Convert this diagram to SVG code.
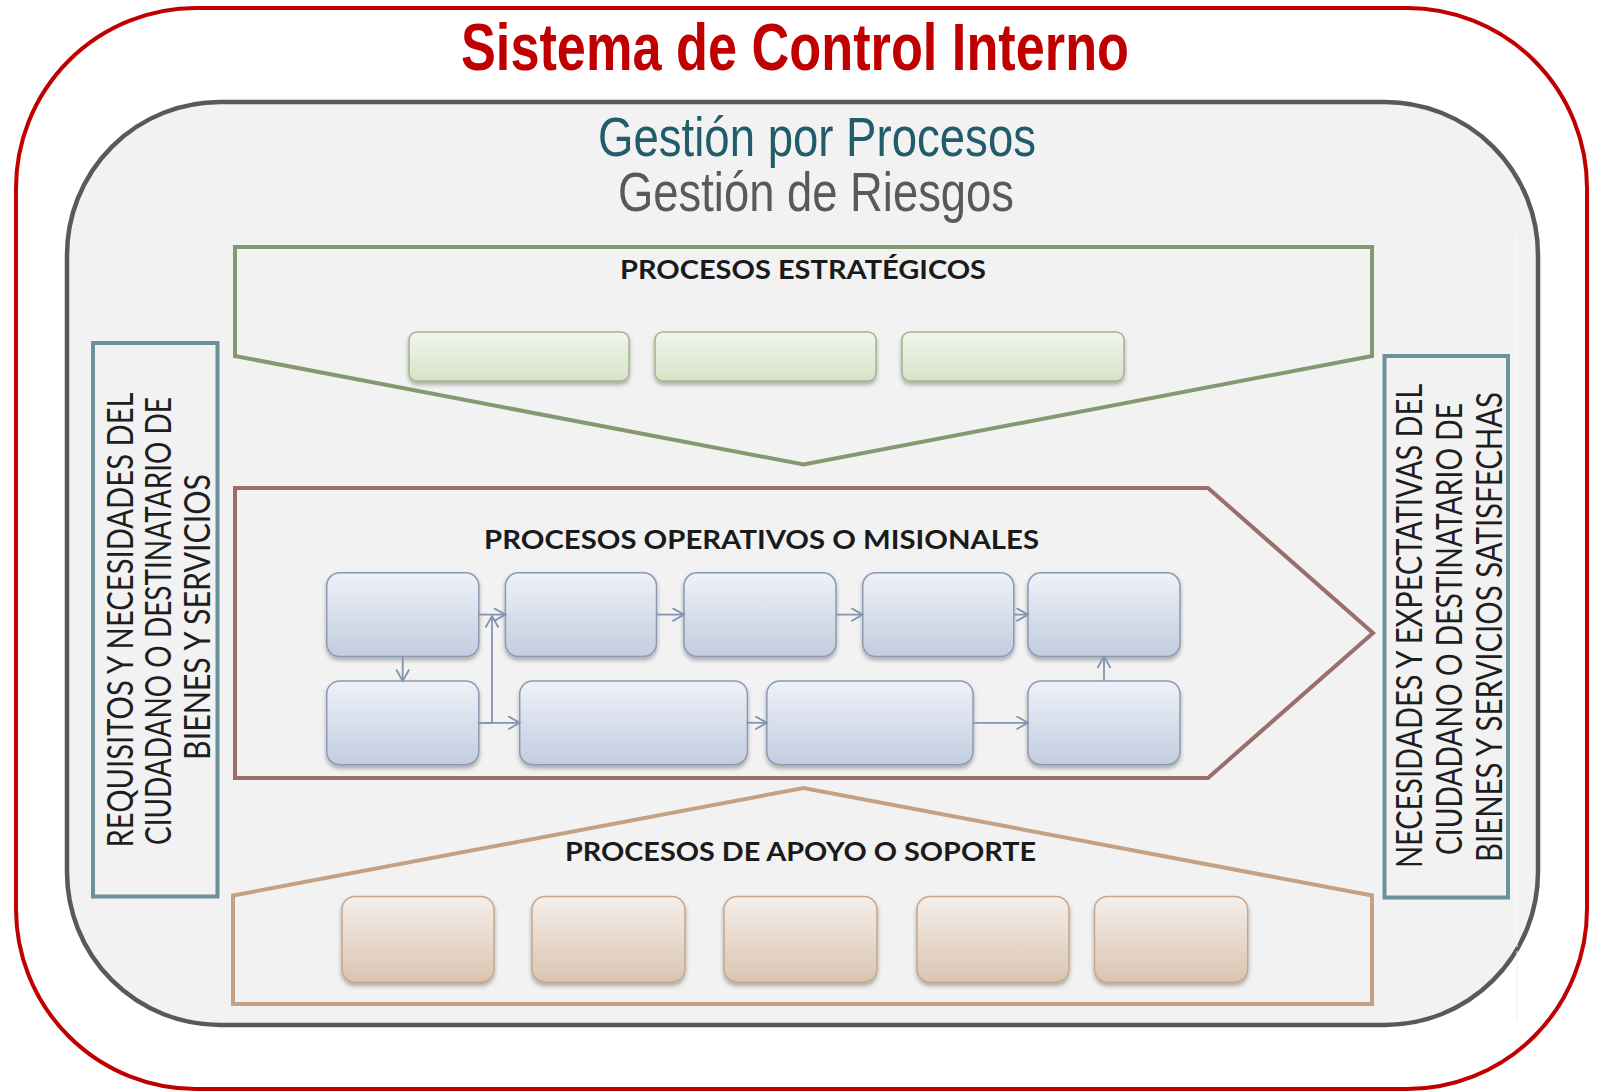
<svg xmlns="http://www.w3.org/2000/svg" width="1601" height="1092" viewBox="0 0 1601 1092">
<defs>
<style>
.narrow{font-family:"Liberation Sans Narrow","Liberation Sans",Arial,sans-serif;}
.hdr{font-family:Lato,"Liberation Sans",Arial,sans-serif;font-weight:700;font-size:26px;fill:#1A1A1A;}
.side{font-family:Lato,"Liberation Sans",Arial,sans-serif;font-size:36px;fill:#1E1E1E;text-anchor:middle;}
.band{fill:none;stroke-width:4;stroke-linejoin:miter;}
.sbox{fill:#F2F2F2;stroke:#6B919C;stroke-width:4;}
.g{fill:url(#gGreen);stroke:#A2B48A;stroke-width:1.5;filter:url(#sh);}
.b{fill:url(#gBlue);stroke:#8A9AB3;stroke-width:1.5;filter:url(#sh);}
.t{fill:url(#gTan);stroke:#C6A68C;stroke-width:1.5;filter:url(#sh);}
.c{fill:none;stroke:#8394AC;stroke-width:1.8;}
</style>
<linearGradient id="gGreen" x1="0" y1="0" x2="0" y2="1"><stop offset="0" stop-color="#F1F5EC"/><stop offset="1" stop-color="#D7E3C7"/></linearGradient>
<linearGradient id="gBlue" x1="0" y1="0" x2="0" y2="1"><stop offset="0" stop-color="#EEF1F8"/><stop offset="1" stop-color="#C2CDDF"/></linearGradient>
<linearGradient id="gTan" x1="0" y1="0" x2="0" y2="1"><stop offset="0" stop-color="#F5EEE9"/><stop offset="1" stop-color="#DAC4B1"/></linearGradient>
<filter id="sh" x="-10%" y="-10%" width="120%" height="130%">
<feDropShadow dx="0" dy="3" stdDeviation="2" flood-color="#000" flood-opacity="0.3"/>
</filter>
<marker id="arr" markerUnits="userSpaceOnUse" markerWidth="16" markerHeight="16" refX="12" refY="7" orient="auto">
<path d="M0.5,0.5 L12,7 L0.5,13.5" fill="none" stroke="#8394AC" stroke-width="1.8"/>
</marker>
</defs>

<rect width="1601" height="1092" fill="#FFFFFF"/>

<g id="sistema">
<rect x="16" y="8" width="1571" height="1081" rx="180" ry="180" fill="#FFFFFF" stroke="#C00000" stroke-width="4"/>
<text class="narrow" x="461" y="70" font-size="66" font-weight="700" fill="#C00000" textLength="668" lengthAdjust="spacingAndGlyphs">Sistema de Control Interno</text>
</g>

<g id="gestion">
<rect x="67" y="102" width="1471" height="923" rx="153" ry="153" fill="#F2F2F2" stroke="#595959" stroke-width="4.5"/>
<line x1="1517" y1="233" x2="1517" y2="947" stroke="#FAFAFA" stroke-width="1"/>
<line x1="1517" y1="951" x2="1517" y2="1020" stroke="#EBEBEB" stroke-width="1"/>
<text class="narrow" x="598" y="156" font-size="55" fill="#215C6A" textLength="438" lengthAdjust="spacingAndGlyphs">Gestión por Procesos</text>
<text class="narrow" x="618" y="211" font-size="55" fill="#595959" textLength="396" lengthAdjust="spacingAndGlyphs">Gestión de Riesgos</text>
</g>

<g id="entrada">
<rect class="sbox" x="93" y="343" width="124.5" height="553.5"/>
<text class="side" transform="translate(133,620) rotate(-90)" textLength="455" lengthAdjust="spacingAndGlyphs">REQUISITOS Y NECESIDADES DEL</text>
<text class="side" transform="translate(171,621) rotate(-90)" textLength="448" lengthAdjust="spacingAndGlyphs">CIUDADANO O DESTINATARIO DE</text>
<text class="side" transform="translate(210,617) rotate(-90)" textLength="286" lengthAdjust="spacingAndGlyphs">BIENES Y SERVICIOS</text>
</g>

<g id="salida">
<rect class="sbox" x="1384.5" y="356" width="123.5" height="541.5"/>
<text class="side" transform="translate(1422,626) rotate(-90)" textLength="484" lengthAdjust="spacingAndGlyphs">NECESIDADES Y EXPECTATIVAS DEL</text>
<text class="side" transform="translate(1462,629) rotate(-90)" textLength="452" lengthAdjust="spacingAndGlyphs">CIUDADANO O DESTINATARIO DE</text>
<text class="side" transform="translate(1502,627) rotate(-90)" textLength="470" lengthAdjust="spacingAndGlyphs">BIENES Y SERVICIOS SATISFECHAS</text>
</g>

<g id="estrategicos">
<polygon class="band" stroke="#849872" points="235,247 1372,247 1372,356 803.5,464.5 235,356"/>
<text class="hdr" x="620" y="279" textLength="366" lengthAdjust="spacingAndGlyphs">PROCESOS ESTRATÉGICOS</text>
<rect id="e1" class="g" x="409" y="332" width="220" height="49" rx="8"/>
<rect id="e2" class="g" x="655" y="332" width="221" height="49" rx="8"/>
<rect id="e3" class="g" x="902" y="332" width="222" height="49" rx="8"/>
</g>

<g id="operativos">
<polygon class="band" stroke="#9B6E6C" points="235,488 1208,488 1373,633 1208,778 235,778"/>
<text class="hdr" x="484" y="549" textLength="555" lengthAdjust="spacingAndGlyphs">PROCESOS OPERATIVOS O MISIONALES</text>
<rect id="b1" class="b" x="326.7" y="572.8" width="152.1" height="83.7" rx="13"/>
<rect id="b2" class="b" x="505.4" y="572.8" width="151.1" height="83.7" rx="13"/>
<rect id="b3" class="b" x="684" y="572.8" width="152" height="83.7" rx="13"/>
<rect id="b4" class="b" x="862.7" y="572.8" width="151.1" height="83.7" rx="13"/>
<rect id="b5" class="b" x="1028" y="572.8" width="152" height="83.7" rx="13"/>
<rect id="c1" class="b" x="326.7" y="681" width="152.1" height="83.7" rx="13"/>
<rect id="c2" class="b" x="519.7" y="681" width="227.7" height="83.7" rx="13"/>
<rect id="c3" class="b" x="766.8" y="681" width="206.2" height="83.7" rx="13"/>
<rect id="c4" class="b" x="1028" y="681" width="152" height="83.7" rx="13"/>
</g>

<g id="apoyo">
<polygon class="band" stroke="#C4A182" points="233,895.5 803.5,788 1372,895.5 1372,1004 233,1004"/>
<text class="hdr" x="565" y="861" textLength="471" lengthAdjust="spacingAndGlyphs">PROCESOS DE APOYO O SOPORTE</text>
<rect id="a1" class="t" x="342" y="896.4" width="152" height="85.8" rx="13"/>
<rect id="a2" class="t" x="532" y="896.4" width="153" height="85.8" rx="13"/>
<rect id="a3" class="t" x="724" y="896.4" width="153" height="85.8" rx="13"/>
<rect id="a4" class="t" x="917" y="896.4" width="152" height="85.8" rx="13"/>
<rect id="a5" class="t" x="1094.5" y="896.4" width="153.2" height="85.8" rx="13"/>
</g>

<g id="connectors">
<path class="c" marker-end="url(#arr)" d="M478.8,614.6 H505.4"/>
<path class="c" marker-end="url(#arr)" d="M656.5,614.6 H684"/>
<path class="c" marker-end="url(#arr)" d="M836,614.6 H862.7"/>
<path class="c" marker-end="url(#arr)" d="M1013.8,614.6 H1028"/>
<path class="c" marker-end="url(#arr)" d="M402.7,656.5 V681"/>
<path class="c" marker-end="url(#arr)" d="M478.8,722.8 H519.7"/>
<path class="c" marker-end="url(#arr)" d="M478.8,722.8 H492 V616"/>
<path class="c" marker-end="url(#arr)" d="M747.4,722.8 H766.8"/>
<path class="c" marker-end="url(#arr)" d="M973,722.8 H1028"/>
<path class="c" marker-end="url(#arr)" d="M1104,681 V656.5"/>
</g>
</svg>
